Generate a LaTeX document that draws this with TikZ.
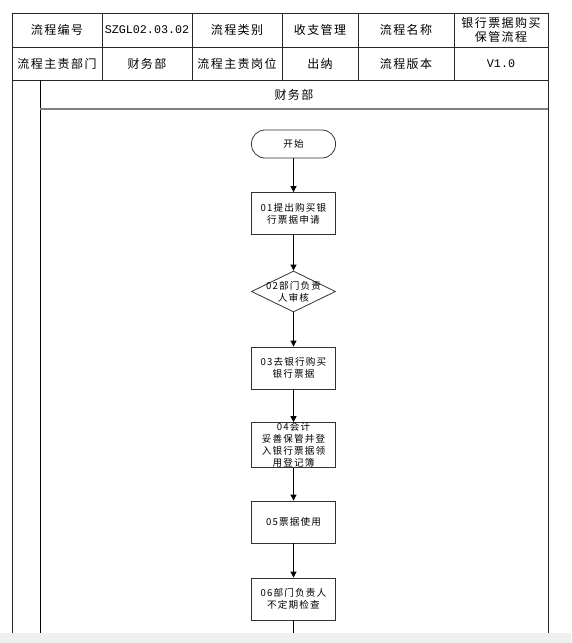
\documentclass[tikz,border=0pt]{standalone}
\usepackage{fontspec}
\setmainfont{Noto Sans CJK SC}
\newfontfamily\cjkf{Noto Sans CJK SC}[LetterSpace=12]
\newfontfamily\monof{Liberation Mono}
\usetikzlibrary{arrows.meta,shapes.geometric}
\begin{document}
\begin{tikzpicture}[x=1pt,y=-1pt,
  tline/.style={draw=black!85, line width=0.9pt},
  cell/.style={font=\cjkf\fontsize{12}{14}\selectfont, align=center, inner sep=0pt},
  proc/.style={draw=black!80, line width=0.8pt, fill=white, minimum width=84pt, minimum height=42pt, inner sep=0pt, align=center, font=\cjkf\fontsize{9.6}{12}\selectfont},
  term/.style={proc, minimum height=28pt, rounded corners=13.5pt},
  dec/.style={draw=black!80, line width=0.8pt, fill=white, shape=diamond, aspect=2.05, minimum width=84pt, minimum height=41pt, inner sep=0pt},
  flow/.style={draw=black, line width=0.8pt, -{Triangle[length=6pt,width=6pt]}}]
\useasboundingbox (0,0) rectangle (571,643);
\fill[white] (0,0) rectangle (571,643);
% table
\draw[tline] (12,13) rectangle (548,80);
\draw[tline] (12,47) -- (548,47);
\foreach \x in {102,192,282,358,454} \draw[tline] (\x,13) -- (\x,80);
\node[cell] (c11) at (57,30) {流程编号};
\node[cell, font=\monof\fontsize{11.7}{14}\selectfont] (c12) at (147,30) {SZGL02.03.02};
\node[cell] (c13) at (237,30) {流程类别};
\node[cell] (c14) at (320,30) {收支管理};
\node[cell] (c15) at (406,30) {流程名称};
\node[cell] (c16) at (501,30) {银行票据购买\\保管流程};
\node[cell] (c21) at (57,63.5) {流程主责部门};
\node[cell] (c22) at (147,63.5) {财务部};
\node[cell] (c23) at (237,63.5) {流程主责岗位};
\node[cell] (c24) at (320,63.5) {出纳};
\node[cell] (c25) at (406,63.5) {流程版本};
\node[cell, font=\monof\fontsize{11.7}{14}\selectfont] (c26) at (501,63.5) {V1.0};
% lane
\draw[tline] (12,80) -- (12,643);
\draw[tline] (548,80) -- (548,643);
\draw[draw=black, line width=0.9pt] (40,80) -- (40,643);
\draw[draw=black!50, line width=1.6pt] (40,109) -- (548,109);
\node[cell] (lane) at (294,95) {财务部};
% flow
\node[term] (s) at (293.5,144) {开始};
\node[proc] (p1) at (293.5,213.5) {01提出购买银\\行票据申请};
\node[dec] (p2) at (293.5,291.5) {};
\node[align=center, inner sep=0pt, font=\cjkf\fontsize{9.6}{12}\selectfont] (p2t) at (p2.center) {02部门负责\\人审核};
\node[proc] (p3) at (293.5,368) {03去银行购买\\银行票据};
\node[proc] (p4) at (293.5,445) {04会计\\妥善保管并登\\入银行票据领\\用登记簿};
\node[proc] (p5) at (293.5,522) {05票据使用};
\node[proc] (p6) at (293.5,599) {06部门负责人\\不定期检查};
\coordinate (end) at (293.5,643);
\draw[flow] (s) -- (p1);
\draw[flow] (p1) -- (p2);
\draw[flow] (p2) -- (p3);
\draw[flow] (p3) -- (p4);
\draw[flow] (p4) -- (p5);
\draw[flow] (p5) -- (p6);
\draw[draw=black, line width=0.8pt] (p6) -- (end);
% bottom strip
\fill[fill={rgb,255:red,240;green,240;blue,240}] (0,633) rectangle (571,643);
\end{tikzpicture}
\end{document}
